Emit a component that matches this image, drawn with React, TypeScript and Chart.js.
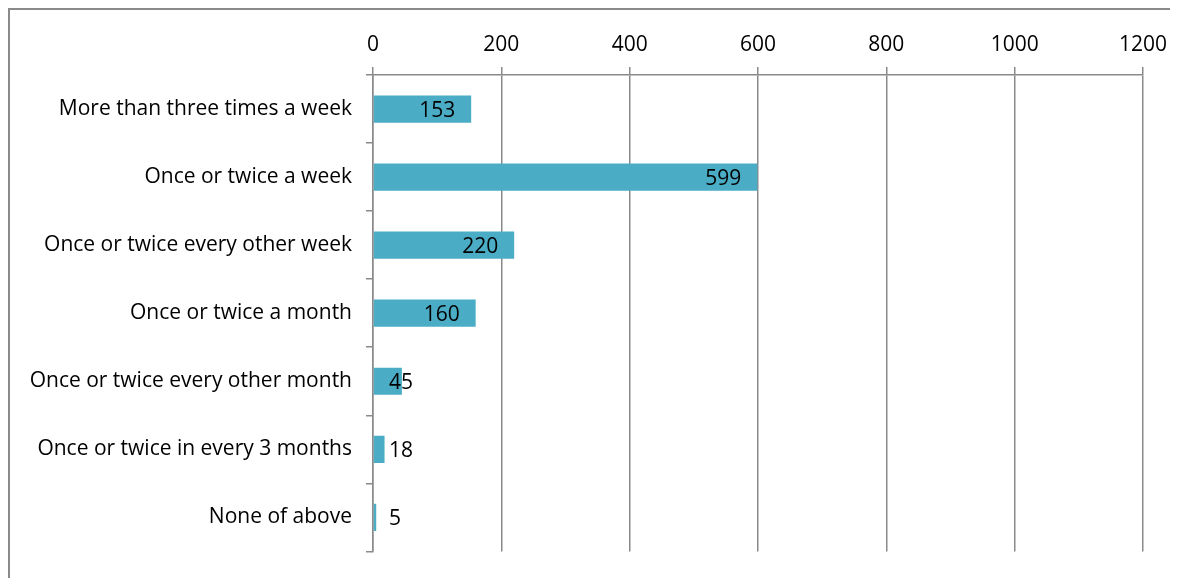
import React, { useEffect, useRef } from "react";
import { Chart, registerables } from "chart.js";

Chart.register(...registerables);

const categories = [
  "More than three times a week",
  "Once or twice a week",
  "Once or twice every other week",
  "Once or twice a month",
  "Once or twice every other month",
  "Once or twice in every 3 months",
  "None of above",
];
const counts = [153, 599, 220, 160, 45, 18, 5];
const xTicks = [0, 200, 400, 600, 800, 1000, 1200];

const FONT = "'Open Sans'";
const GRID = "#8a8a8a";
const FS = 21;

const labelPlugin = {
  id: "barLabels",
  afterDatasetsDraw(chart: any) {
    const ctx = chart.ctx;
    const meta = chart.getDatasetMeta(0);
    const x0 = chart.scales.x.getPixelForValue(0);
    ctx.save();
    ctx.font = `${FS}px ${FONT}`;
    ctx.fillStyle = "#000";
    ctx.textBaseline = "middle";
    ctx.textAlign = "left";
    meta.data.forEach((bar: any, i: number) => {
      const txt = String(counts[i]);
      const w = ctx.measureText(txt).width;
      const left = Math.max(bar.x - 16 - w, x0 + 16);
      ctx.fillText(txt, left, bar.y + 2);
    });
    ctx.restore();
  },
};

export default function App() {
  const ref = useRef<HTMLCanvasElement>(null);
  useEffect(() => {
    const chart = new Chart(ref.current!, {
      type: "bar",
      data: {
        labels: categories,
        datasets: [
          {
            data: counts,
            backgroundColor: "#4BACC6",
            categoryPercentage: 1,
            barPercentage: 0.4,
          },
        ],
      },
      options: {
        indexAxis: "y",
        animation: false,
        responsive: false,
        layout: { padding: { top: 0, left: 0, right: 35, bottom: 24 } },
        plugins: { legend: { display: false }, tooltip: { enabled: false } },
        scales: {
          x: {
            position: "top",
            min: 0,
            max: 1200,
            afterBuildTicks: (s: any) => {
              s.ticks = xTicks.map((v) => ({ value: v }));
            },
            afterFit: (s: any) => {
              s.height = 65;
            },
            grid: { color: GRID, lineWidth: 1.5, tickLength: 8, drawTicks: true },
            border: { display: true, color: GRID, width: 1.5 },
            ticks: {
              color: "#000",
              font: { family: FONT, size: FS },
              padding: 9,
              maxRotation: 0,
              callback: (v: any) => String(v),
            },
          },
          y: {
            afterFit: (s: any) => {
              s.width = 363;
            },
            grid: { drawOnChartArea: false, color: GRID, lineWidth: 1.5, tickLength: 7 },
            border: { display: true, color: GRID, width: 1.5 },
            ticks: { color: "#000", font: { family: FONT, size: FS }, padding: 14 },
          },
        },
      },
      plugins: [labelPlugin],
    });
    return () => chart.destroy();
  }, []);
  return (
    <div
      style={{
        width: 1168,
        height: 568,
        borderLeft: "2px solid #8a8a8a",
        borderTop: "2px solid #8a8a8a",
        overflow: "hidden",
      }}
    >
      <canvas ref={ref} width={1168} height={568} style={{ display: "block" }} />
    </div>
  );
}
